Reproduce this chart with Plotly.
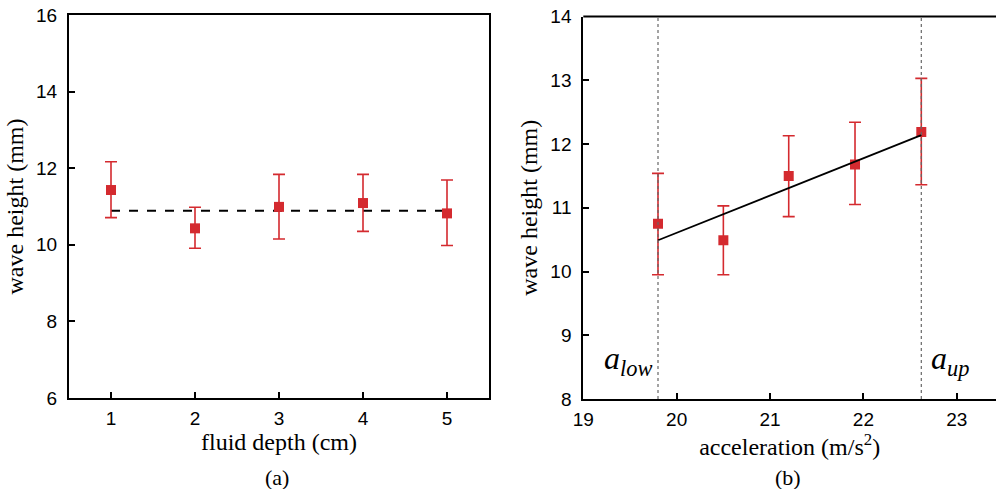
import plotly.graph_objects as go

# Panel (a)
depth = [1, 2, 3, 4, 5]
height_a = [11.43, 10.43, 10.99, 11.09, 10.82]
err_a_plus = [0.74, 0.55, 0.85, 0.75, 0.87]
err_a_minus = [0.72, 0.52, 0.84, 0.74, 0.84]
mean_a = 10.89

# Panel (b)
accel = [19.8, 20.5, 21.2, 21.91, 22.62]
height_b = [10.75, 10.49, 11.50, 11.68, 12.19]
err_b_plus = [0.79, 0.54, 0.63, 0.66, 0.84]
err_b_minus = [0.80, 0.54, 0.64, 0.63, 0.83]
fit_x = [19.8, 22.62]
fit_y = [10.49, 12.14]
a_low = 19.8
a_up = 22.62

RED = "#d42a2f"
SERIF = "Liberation Serif, Times New Roman, serif"
SANS = "Liberation Sans, Arial, sans-serif"

W, H = 996, 489
OFF = 0  # page body margin removed below via post_script


def px_x(p):
    return (p - OFF) / W


def px_y(p):
    return 1 - (p - OFF) / H


fig = go.Figure()

fig.add_trace(go.Scatter(
    x=[depth[0], depth[-1]], y=[mean_a, mean_a], mode="lines",
    line=dict(color="black", width=2, dash="dash"), xaxis="x", yaxis="y", showlegend=False))
fig.add_trace(go.Scatter(
    x=depth, y=height_a, mode="markers",
    marker=dict(symbol="square", size=10, color=RED),
    error_y=dict(type="data", symmetric=False, array=err_a_plus, arrayminus=err_a_minus,
                 color=RED, thickness=1.6, width=6),
    xaxis="x", yaxis="y", showlegend=False))

fig.add_trace(go.Scatter(
    x=accel, y=height_b, mode="markers",
    marker=dict(symbol="square", size=10, color=RED),
    error_y=dict(type="data", symmetric=False, array=err_b_plus, arrayminus=err_b_minus,
                 color=RED, thickness=1.6, width=6),
    xaxis="x2", yaxis="y2", showlegend=False))
fig.add_trace(go.Scatter(
    x=fit_x, y=fit_y, mode="lines", line=dict(color="black", width=1.8),
    xaxis="x2", yaxis="y2", showlegend=False))

for xv in (a_low, a_up):
    fig.add_shape(type="line", xref="x2", yref="y2 domain", x0=xv, x1=xv, y0=0, y1=1,
                  line=dict(color="#666666", width=1.2, dash="dot"))

axis_common = dict(showgrid=False, zeroline=False, linecolor="black", linewidth=2,
                   ticks="inside", ticklen=6, tickcolor="black", tickwidth=1.5,
                   automargin=False, ticklabeloverflow="allow",
                   tickfont=dict(family=SANS, size=19, color="black"))
TITLE_FONT = dict(family=SERIF, size=24, color="black")

fig.update_layout(
    width=W, height=H,
    margin=dict(l=0, r=0, t=0, b=0),
    paper_bgcolor="white", plot_bgcolor="white",
    xaxis=dict(domain=[px_x(69), px_x(489)], range=[0.5, 5.5], tickvals=depth,
               mirror=True, anchor="y", ticklabelstandoff=2,
               title=dict(text="fluid depth (cm)", font=TITLE_FONT, standoff=2),
               **axis_common),
    yaxis=dict(domain=[px_y(398), px_y(15)], range=[6, 16], tickvals=[6, 8, 10, 12, 14, 16],
               mirror=True, anchor="x", ticklabelstandoff=6,
               title=dict(text="wave height (mm)", font=TITLE_FONT, standoff=6),
               **axis_common),
    xaxis2=dict(domain=[px_x(583.3), 1.0], range=[19, 23.42], tickvals=[19, 20, 21, 22, 23],
                anchor="y2", mirror=False, ticklabelstandoff=2,
                title=dict(text="acceleration (m/s<sup>2</sup>)", font=TITLE_FONT, standoff=2),
                **axis_common),
    yaxis2=dict(domain=[px_y(399), px_y(16.5)], range=[8, 14], tickvals=[8, 9, 10, 11, 12, 13, 14],
                anchor="x2", mirror=False, ticklabelstandoff=6,
                title=dict(text="wave height (mm)", font=TITLE_FONT, standoff=6),
                **axis_common),
)

# top border for panel (b)
fig.add_shape(type="line", xref="x2 domain", yref="y2 domain", x0=0, x1=1, y0=1, y1=1,
              line=dict(color="black", width=2))

fig.add_annotation(text="<i>a<sub>low</sub></i>", xref="x2", yref="y2", x=a_low, y=8.25,
                   xanchor="right", yanchor="bottom", xshift=-4, showarrow=False,
                   font=dict(family=SERIF, size=32, color="black"))
fig.add_annotation(text="<i>a<sub>up</sub></i>", xref="x2", yref="y2", x=a_up, y=8.25,
                   xanchor="left", yanchor="bottom", xshift=8, showarrow=False,
                   font=dict(family=SERIF, size=32, color="black"))

fig.add_annotation(text="(a)", xref="paper", yref="paper", x=px_x(277), y=px_y(477),
                   xanchor="center", yanchor="middle", showarrow=False,
                   font=dict(family=SERIF, size=22, color="black"))
fig.add_annotation(text="(b)", xref="paper", yref="paper", x=px_x(788), y=px_y(477),
                   xanchor="center", yanchor="middle", showarrow=False,
                   font=dict(family=SERIF, size=22, color="black"))

fig.write_html("out.html", config={"displayModeBar": False},
               post_script="document.body.style.margin='0px';")
